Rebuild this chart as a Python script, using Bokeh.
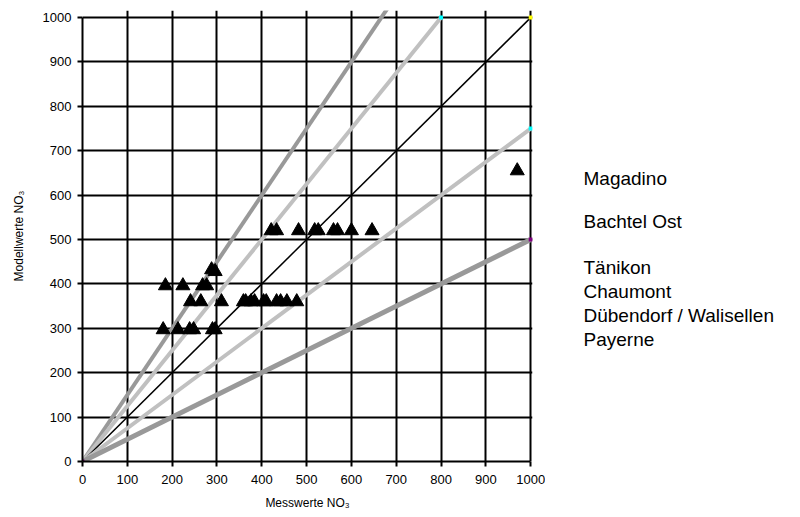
from bokeh.plotting import figure
from bokeh.models import Range1d, FixedTicker
from bokeh.layouts import row
from bokeh.core.properties import value
from bokeh.embed import file_html
from bokeh.resources import INLINE

# Measured vs modelled NO3 (triangles)
meas = [180, 213, 239, 248, 290, 296,
        241, 264, 310, 359, 364, 376, 384, 404, 410, 433, 442, 456, 478,
        185, 224, 268, 277,
        288, 296,
        421, 433, 482, 518, 526, 560, 569, 600, 646,
        970]
model = [297, 297, 297, 297, 297, 297,
         360, 360, 360, 360, 360, 360, 360, 360, 360, 360, 360, 360, 360,
         396, 396, 396, 396,
         432, 428,
         520, 520, 520, 520, 520, 520, 520, 520, 520,
         655]

# Reference lines (ratio model/measured) and their end points
ratios = [1.5, 1.25, 1.0, 0.75, 0.5]
line_end_x = [690, 800, 1000, 1000, 1000]
line_colors = ["#999999", "#c0c0c0", "#000000", "#c0c0c0", "#999999"]
line_widths = [4, 4, 1.5, 4, 5]

# End markers of reference lines
dot_x = [800, 1000, 1000, 1000, 0]
dot_y = [1000, 1000, 750, 500, 0]
dot_colors = ["#00ffff", "#ffff00", "#00ffff", "#800080", "#800080"]

stations = ["Magadino", "Bachtel Ost", "Tänikon", "Chaumont",
            "Dübendorf / Walisellen", "Payerne"]
station_y = [638, 541, 436, 382, 329, 275]

ticks = [0, 100, 200, 300, 400, 500, 600, 700, 800, 900, 1000]

H = 512
p = figure(width=545, height=H, output_backend="svg", toolbar_location=None,
           x_range=Range1d(0, 1004), y_range=Range1d(0, 1016),
           min_border_left=82, min_border_right=13, min_border_top=10,
           min_border_bottom=50)
p.outline_line_color = None
p.background_fill_color = "white"
p.border_fill_color = "white"

for ax in (p.xaxis, p.yaxis):
    ax.ticker = FixedTicker(ticks=ticks)
    ax.bounds = (0, 1000)
    ax.axis_line_color = "black"
    ax.axis_line_width = 2
    ax.major_tick_line_color = "black"
    ax.major_tick_line_width = 2
    ax.major_tick_out = 5
    ax.major_tick_in = 0
    ax.minor_tick_line_color = None
    ax.major_label_text_font = "Liberation Sans"
    ax.major_label_text_font_size = "13px"
    ax.major_label_text_color = "black"
    ax.axis_label_text_font = "Liberation Sans"
    ax.axis_label_text_font_size = "12px"
    ax.axis_label_text_font_style = "normal"
    ax.axis_label_text_color = "black"

p.xaxis.axis_label = "Messwerte NO₃"
p.yaxis.axis_label = "Modellwerte NO₃"
p.xaxis.major_label_standoff = 8
p.yaxis.major_label_standoff = 6
p.xaxis.axis_label_standoff = 9
p.yaxis.axis_label_standoff = 14

for g in (p.xgrid, p.ygrid):
    g.ticker = FixedTicker(ticks=ticks)
    g.grid_line_color = "black"
    g.grid_line_width = 2
    g.grid_line_alpha = 1.0

for r, ex, c, w in zip(ratios, line_end_x, line_colors, line_widths):
    p.line([0, ex], [0, r * ex], line_color=c, line_width=w)

p.scatter(dot_x, dot_y, marker="square", size=4, fill_color=dot_colors,
          line_color=None)

p.scatter(meas, model, marker="triangle", size=14, fill_color="black",
          line_color="black")

# Side panel with the station names
p2 = figure(width=245, height=H, output_backend="svg", toolbar_location=None,
            x_range=Range1d(0, 245), y_range=Range1d(0, 1016),
            x_axis_type=None, y_axis_type=None,
            min_border_left=0, min_border_right=0, min_border_top=10,
            min_border_bottom=50)
p2.outline_line_color = None
p2.grid.visible = False
p2.text(x=[38] * len(stations), y=station_y, text=stations,
        text_font=value("Liberation Sans"), text_font_size="19px",
        text_color="black", text_baseline="alphabetic", text_align="left")

layout = row(p, p2)
open("out.html", "w").write(file_html(layout, INLINE))
